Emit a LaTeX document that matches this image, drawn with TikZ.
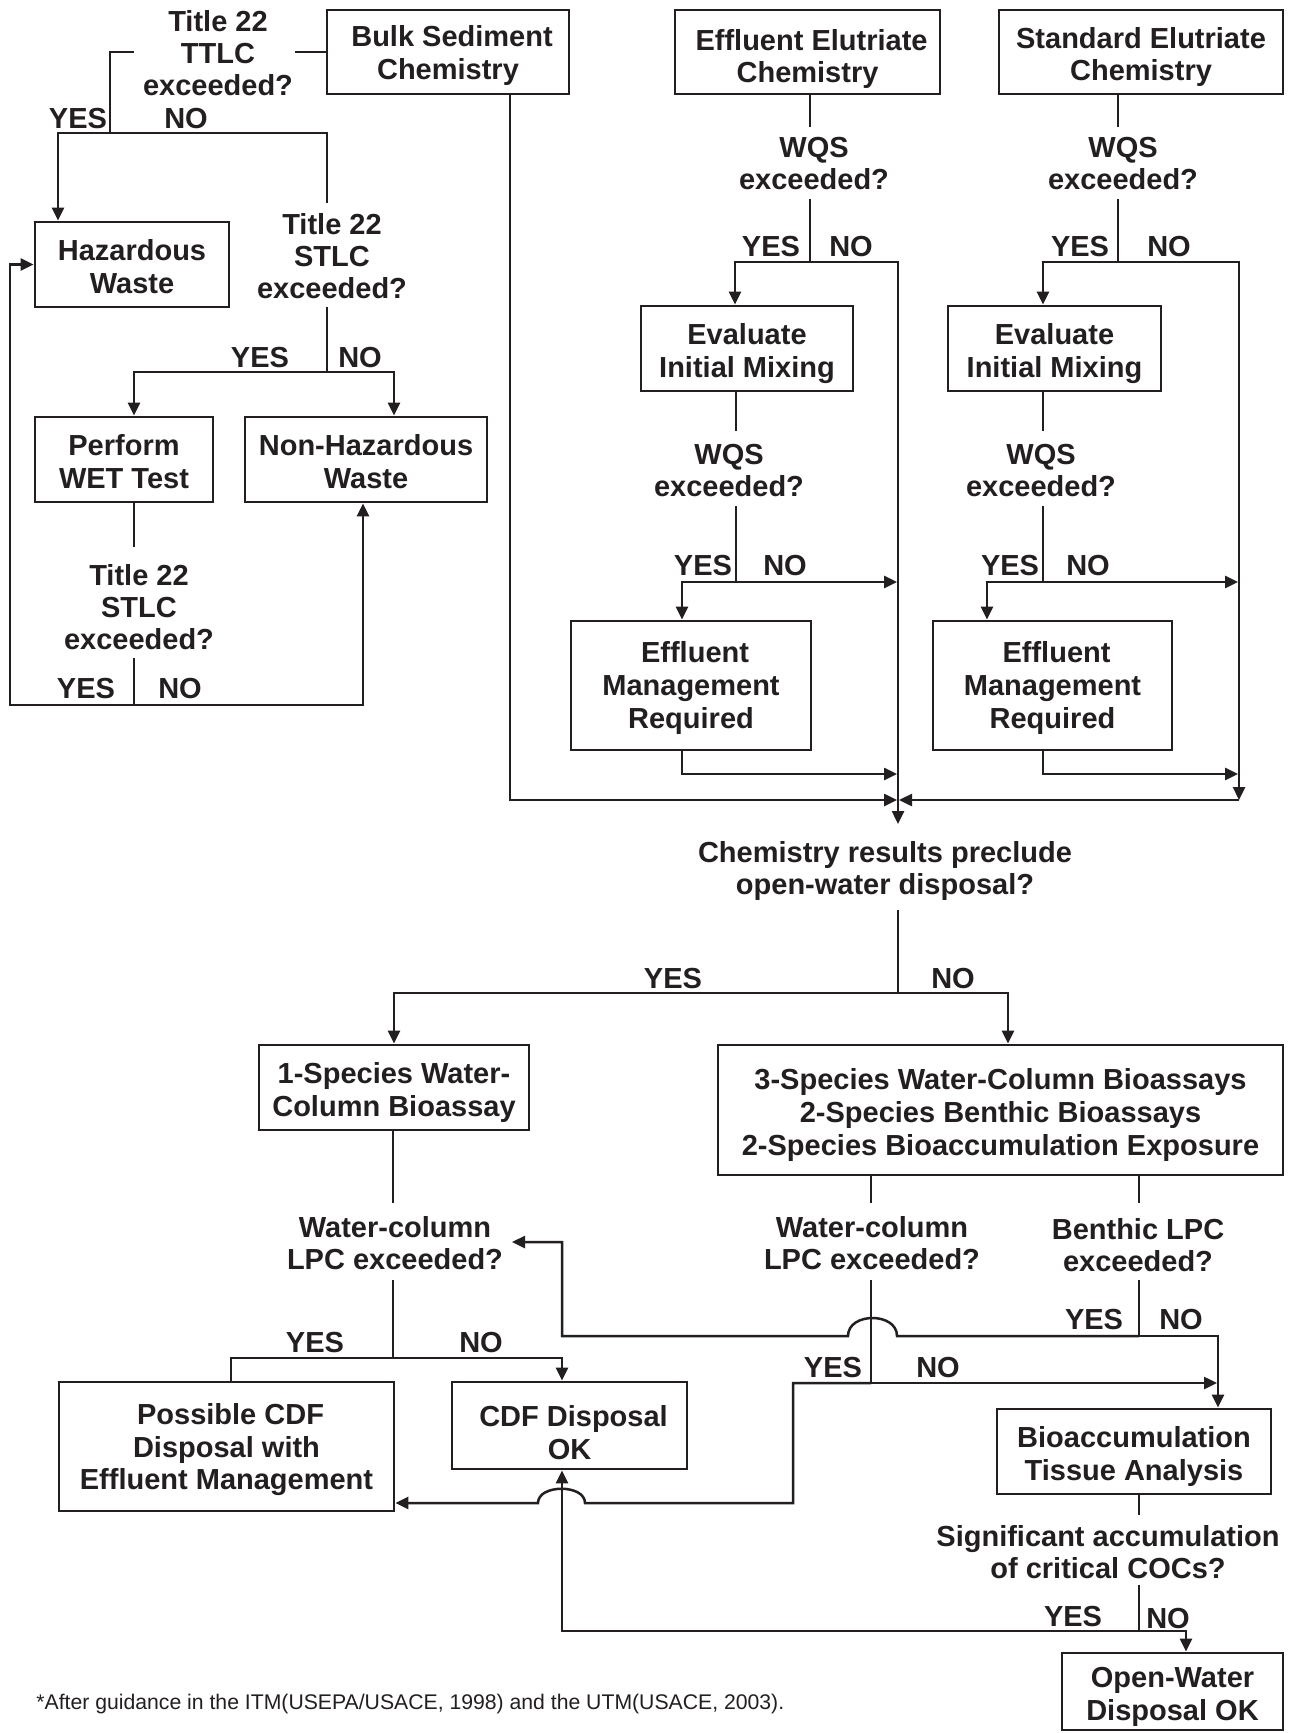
\documentclass[tikz,border=0pt]{standalone}
\usepackage{fontspec}
\setmainfont{Liberation Sans}
\usetikzlibrary{arrows.meta}
\definecolor{ink}{HTML}{231F20}
\newcommand{\mfont}{\fontsize{14.5pt}{16pt}\selectfont\bfseries}
\newcommand{\bfont}{\fontsize{14.5pt}{16.4pt}\selectfont\bfseries}
\newcommand{\ffont}{\fontsize{10.6pt}{12pt}\selectfont}
\newcommand{\ts}[1][1.08em]{\rule{0pt}{#1}}
\newcommand{\bs}{\rule[-0.22em]{0pt}{0.22em}}
\begin{document}
\begin{tikzpicture}[x=0.5pt,y=-0.5pt,
  box/.style={draw=ink, line width=1.4pt, align=center, inner sep=0pt, text=ink, font=\bfont,
     execute at end node=\bs},
  lbl/.style={align=center, inner sep=0pt, text=ink, font=\mfont},
  ln/.style={draw=ink, line width=1.25pt},
  arr/.style={-{Triangle[length=6.5pt,width=6pt]}}]
\fill[white] (0,0) rectangle (1291,1733);
\useasboundingbox (0,0) rectangle (1291,1733);

% ---------- boxes ----------
\node[box, minimum width=121pt, minimum height=42pt] (bulk) at (448,52) {\ts[0.98em] Bulk Sediment\\Chemistry};
\node[box, minimum width=132.5pt, minimum height=42pt] (ee) at (807.5,52) {\ts[1.22em] Effluent Elutriate\\Chemistry};
\node[box, minimum width=142pt, minimum height=42pt] (se) at (1141,52) {\ts Standard Elutriate\\Chemistry};
\node[box, minimum width=97pt, minimum height=42.5pt] (haz) at (132,264.5) {\ts Hazardous\\Waste};
\node[box, minimum width=89pt, minimum height=42.5pt] (wet) at (124,459.5) {\ts Perform\\WET Test};
\node[box, minimum width=121pt, minimum height=42.5pt] (nonhaz) at (366,459.5) {\ts Non-Hazardous\\Waste};
\node[box, minimum width=106pt, minimum height=42.5pt] (eim1) at (747,348.5) {\ts Evaluate\\Initial Mixing};
\node[box, minimum width=106.5pt, minimum height=42.5pt] (eim2) at (1054.5,348.5) {\ts Evaluate\\Initial Mixing};
\node[box, minimum width=120pt, minimum height=64.5pt] (em1) at (691,685.5) {\ts[0.92em] Effluent\\Management\\Required};
\node[box, minimum width=119.5pt, minimum height=64.5pt] (em2) at (1052.5,685.5) {\ts[0.92em] Effluent\\Management\\Required};
\node[box, minimum width=135pt, minimum height=42.5pt] (one) at (394,1087.5) {\ts 1-Species Water-\\Column Bioassay};
\node[box, minimum width=282.5pt, minimum height=65pt] (three) at (1000.5,1110) {\ts 3-Species Water-Column Bioassays\\2-Species Benthic Bioassays\\2-Species Bioaccumulation Exposure};
\node[box, minimum width=167.5pt, minimum height=64.5pt] (poss) at (226.5,1446.5) {\ts[0.95em] Possible CDF\\Disposal with\\Effluent Management};
\node[box, minimum width=117.5pt, minimum height=43.5pt] (cdf) at (569.5,1425.5) {\ts[1.4em] CDF Disposal\\OK};
\node[box, minimum width=137pt, minimum height=42.5pt] (bio) at (1134,1451.5) {\ts Bioaccumulation\\Tissue Analysis};
\node[box, minimum width=110.5pt, minimum height=38.5pt] (ow) at (1172.5,1691.5) {\ts Open-Water\\Disposal OK};

% ---------- questions ----------
\node[lbl] (d1) at (218,53.5) {Title 22\\TTLC\\exceeded?};
\node[lbl] (d2) at (332,256.5) {Title 22\\STLC\\exceeded?};
\node[lbl] (d3) at (139,607.5) {Title 22\\STLC\\exceeded?};
\node[lbl] (q1) at (814,164) {WQS\\exceeded?};
\node[lbl] (q2) at (1123,164) {WQS\\exceeded?};
\node[lbl] (q3) at (729,471) {WQS\\exceeded?};
\node[lbl] (q4) at (1041,471) {WQS\\exceeded?};
\node[lbl] (chem) at (885,870.5) {Chemistry results preclude\\open-water disposal?};
\node[lbl] (wc1) at (395,1243) {Water-column\\LPC exceeded?};
\node[lbl] (wc2) at (872,1243.5) {Water-column\\LPC exceeded?};
\node[lbl] (ben) at (1138,1245.5) {Benthic LPC\\exceeded?};
\node[lbl] (sig) at (1108,1552) {Significant accumulation\\of critical COCs?};

% ---------- YES / NO ----------
\node[lbl] (y1) at (78,119) {YES};   \node[lbl] (n1) at (186,119) {NO};
\node[lbl] (y2) at (260,358) {YES};  \node[lbl] (n2) at (360,358) {NO};
\node[lbl] (y3) at (86,689) {YES};   \node[lbl] (n3) at (180,689) {NO};
\node[lbl] (y4) at (771,247) {YES};  \node[lbl] (n4) at (851,247) {NO};
\node[lbl] (y5) at (1080,247) {YES}; \node[lbl] (n5) at (1169,247) {NO};
\node[lbl] (y6) at (703,566) {YES};  \node[lbl] (n6) at (785,566) {NO};
\node[lbl] (y7) at (1010,566) {YES}; \node[lbl] (n7) at (1088,566) {NO};
\node[lbl] (y8) at (673,979) {YES};  \node[lbl] (n8) at (953,979) {NO};
\node[lbl] (y9) at (315,1343) {YES}; \node[lbl] (n9) at (481,1343) {NO};
\node[lbl] (y10) at (833,1368) {YES}; \node[lbl] (n10) at (938,1368) {NO};
\node[lbl] (y11) at (1094,1320) {YES}; \node[lbl] (n11) at (1181,1320) {NO};
\node[lbl] (y12) at (1073,1616) {YES}; \node[lbl] (n12) at (1168,1618) {NO};

% ---------- footnote ----------
\node[anchor=west, inner sep=0pt, text=ink, font=\ffont] (fn) at (36,1704) {*After guidance in the ITM(USEPA/USACE, 1998) and the UTM(USACE, 2003).};

% ---------- connectors: left ----------
\draw[ln] (bulk.west) -- (295,52);
\draw[ln] (134,52) -- (110,52) -- (110,133);
\draw[ln,arr] (327,203) -- (327,133) -- (58,133) -- (58,0 |- haz.north);
\draw[ln,arr] (327,307) -- (327,372) -| (134,0 |- wet.north);
\draw[ln,arr] (327,372) -| (394,0 |- nonhaz.north);
\draw[ln] (134,0 |- wet.south) -- (134,547);
\draw[ln,arr] (134,658) -- (134,705) -| (363,0 |- nonhaz.south);
\draw[ln,arr] (134,705) -| (10,0 |- haz.west) -- (haz.west);

% ---------- connectors: elutriate columns ----------
\draw[ln,arr] (510,0 |- bulk.south) -- (510,800) -- (897,800);
\draw[ln] (810,0 |- ee.south) -- (810,127);
\draw[ln,arr] (810,199) -- (810,262) -| (735,0 |- eim1.north);
\draw[ln,arr] (810,262) -| (898,824);
\draw[ln] (736,0 |- eim1.south) -- (736,431);
\draw[ln,arr] (736,506) -- (736,582) -| (682,0 |- em1.north);
\draw[ln,arr] (736,582) -- (897,582);
\draw[ln,arr] (682,0 |- em1.south) -- (682,774) -- (897,774);

\draw[ln] (1118,0 |- se.south) -- (1118,127);
\draw[ln,arr] (1118,199) -- (1118,262) -| (1043,0 |- eim2.north);
\draw[ln,arr] (1118,262) -| (1239,800);
\draw[ln,arr] (1239,800) -- (899,800);
\draw[ln] (1043,0 |- eim2.south) -- (1043,431);
\draw[ln,arr] (1043,506) -- (1043,582) -| (987,0 |- em2.north);
\draw[ln,arr] (1043,582) -- (1238,582);
\draw[ln,arr] (1043,0 |- em2.south) -- (1043,774) -- (1238,774);

% ---------- connectors: chemistry decision ----------
\draw[ln] (898,910) -- (898,993);
\draw[ln,arr] (898,993) -| (394,0 |- one.north);
\draw[ln,arr] (898,993) -| (1008,0 |- three.north);

% ---------- connectors: bottom ----------
\draw[ln] (393,0 |- one.south) -- (393,1203);
\draw[ln] (393,1280) -- (393,1358) -| (231,0 |- poss.north);
\draw[ln,arr] (393,1358) -| (562,0 |- cdf.north);
\draw[ln] (871,0 |- three.south) -- (871,1203);
\draw[ln] (1139,0 |- three.south) -- (1139,1203);
\draw[ln,arr] (871,1280) -- (871,1383) -- (1217,1383);
\draw[ln,arr] (871,1383) -- (793,1383) -- (793,1503) -- (585,1503)
   .. controls (585,1484) and (538,1484) .. (538,1503) -- (poss.east |- 0,1503);
\draw[ln] (1139,1280) -- (1139,1336);
\draw[ln,arr] (1139,1336) -| (1218,0 |- bio.north);
\draw[ln,arr] (1139,1336) -- (897,1336)
   .. controls (897,1312) and (848,1312) .. (848,1336) -- (562,1336) -- (562,1242) -- (512,1242);
\draw[ln] (1139,0 |- bio.south) -- (1139,1515);
\draw[ln,arr] (1139,1585) -- (1139,1631) -| (1186,0 |- ow.north);
\draw[ln,arr] (1139,1631) -- (562,1631) -- (562,0 |- cdf.south);
\end{tikzpicture}
\end{document}
